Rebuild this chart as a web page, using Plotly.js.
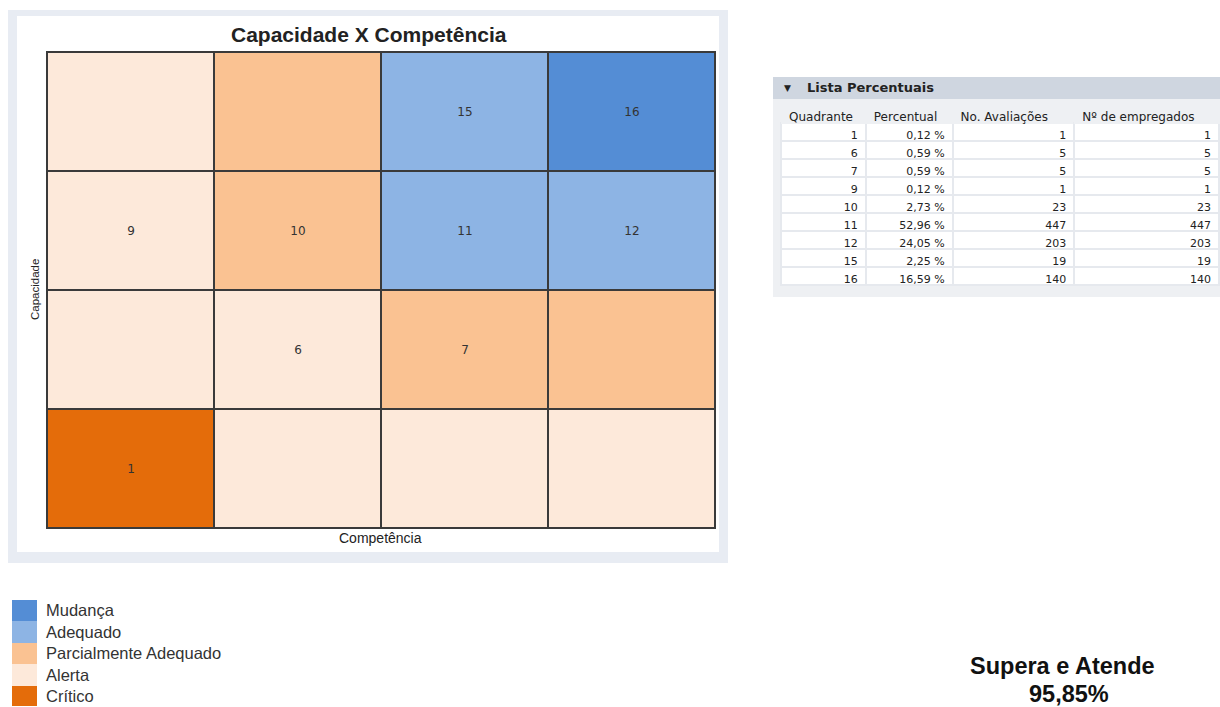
<!DOCTYPE html>
<html>
<head>
<meta charset="utf-8">
<script src="https://cdn.plot.ly/plotly-3.0.1.min.js"></script>
<style>html,body{margin:0;padding:0;background:#fff;}#chart{width:1220px;height:707px;}</style>
</head>
<body>
<div id="chart"></div>
<script>
// ---- data ----
const titulo = 'Capacidade X Competência';
const eixoX = 'Competência';
const eixoY = 'Capacidade';
const categorias = ['Crítico', 'Alerta', 'Parcialmente Adequado', 'Adequado', 'Mudança'];
const coresCategorias = ['#E46C0A', '#FDE9DA', '#FAC292', '#8DB4E4', '#548DD5'];
// grid class per quadrant, row 0 = bottom (quadrants 1-4), row 3 = top (13-16)
const gradeClasse = [
  [0, 1, 1, 1],
  [1, 1, 2, 2],
  [1, 2, 3, 3],
  [1, 2, 3, 4]
];
const colunasGrade = [0, 1, 2, 3];
const linhasGrade = [0, 1, 2, 3];
const quadrantes = [1, 6, 7, 9, 10, 11, 12, 15, 16];
const percentuais = ['0,12 %', '0,59 %', '0,59 %', '0,12 %', '2,73 %', '52,96 %', '24,05 %', '2,25 %', '16,59 %'];
const avaliacoes = [1, 5, 5, 1, 23, 447, 203, 19, 140];
const empregados = [1, 5, 5, 1, 23, 447, 203, 19, 140];
const cabecalhoTabela = ['Quadrante', 'Percentual', 'No. Avaliações', 'Nº de empregados'];
const tituloTabela = 'Lista Percentuais';
const resumoTexto = 'Supera e Atende';
const resumoValor = '95,85%';

// ---- derived ----
const textoGrade = linhasGrade.map(r => colunasGrade.map(c => {
  const q = r * 4 + c + 1;
  return quadrantes.includes(q) ? String(q) : '';
}));
const n = categorias.length;
const escala = [];
coresCategorias.forEach((cor, i) => {
  escala.push([i / n, cor]);
  escala.push([(i + 1) / n, cor]);
});

const W = 1220, H = 707;
const px = v => v / W;
const py = v => 1 - v / H;
const escuro = '#3A3A3A';

const grade = {
  type: 'heatmap',
  x: colunasGrade, y: linhasGrade, z: gradeClasse,
  text: textoGrade, texttemplate: '%{text}',
  textfont: {family: 'DejaVu Sans, sans-serif', size: 12, color: '#333'},
  colorscale: escala, zmin: -0.5, zmax: n - 0.5, showscale: false,
  xgap: 2, ygap: 2, hoverinfo: 'skip',
  xaxis: 'x', yaxis: 'y'
};

const legenda = {
  type: 'heatmap',
  x: [0], y: categorias, z: categorias.map((c, i) => [i]),
  colorscale: escala, zmin: -0.5, zmax: n - 0.5, showscale: false,
  hoverinfo: 'skip', xaxis: 'x2', yaxis: 'y2'
};

const tabela = {
  type: 'table',
  domain: {x: [px(781), px(1222)], y: [py(292), py(104)]},
  columnwidth: [85, 87, 122, 145],
  header: {
    values: cabecalhoTabela,
    align: 'left', height: 19,
    fill: {color: '#EEF0F3'}, line: {color: '#EEF0F3', width: 1},
    font: {family: 'DejaVu Sans, sans-serif', size: 12, color: '#222'}
  },
  cells: {
    values: [quadrantes, percentuais, avaliacoes, empregados],
    align: 'right', height: 18,
    fill: {color: '#FFFFFF'}, line: {color: '#E6E9EE', width: 2},
    font: {family: 'DejaVu Sans, sans-serif', size: 11, color: '#222'}
  }
};

const layout = {
  width: W, height: H,
  margin: {l: 0, r: 0, t: 0, b: 0},
  paper_bgcolor: '#FFFFFF', plot_bgcolor: escuro,
  showlegend: false,
  xaxis: {domain: [px(47), px(715)], range: [-0.5, 3.5], showticklabels: false, ticks: '',
          showgrid: false, zeroline: false, showline: true, mirror: true, linecolor: escuro, linewidth: 1, fixedrange: true},
  yaxis: {domain: [py(528), py(52)], range: [-0.5, 3.5], showticklabels: false, ticks: '',
          showgrid: false, zeroline: false, showline: true, mirror: true, linecolor: escuro, linewidth: 1, fixedrange: true},
  xaxis2: {domain: [px(12), px(37)], anchor: 'y2', showticklabels: false, ticks: '', showgrid: false, zeroline: false, fixedrange: true},
  yaxis2: {domain: [py(706), py(600)], anchor: 'x2', side: 'right', range: [-0.45, 4.5], ticks: '', showgrid: false, zeroline: false,
           ticklabelstandoff: 8, tickfont: {family: 'Liberation Sans, Arial, sans-serif', size: 16.5, color: '#333'}, fixedrange: true},
  shapes: [
    {type: 'rect', xref: 'paper', yref: 'paper', x0: px(8), x1: px(728), y0: py(563), y1: py(10), fillcolor: '#E8ECF3', line: {width: 0}, layer: 'below'},
    {type: 'rect', xref: 'paper', yref: 'paper', x0: px(17), x1: px(719), y0: py(552), y1: py(16), fillcolor: '#FFFFFF', line: {width: 0}, layer: 'below'},
    {type: 'rect', xref: 'x domain', yref: 'y domain', x0: 0, x1: 1, y0: 0, y1: 1, fillcolor: escuro, line: {width: 0}, layer: 'below'},
    {type: 'rect', xref: 'paper', yref: 'paper', x0: px(773), x1: px(1222), y0: py(297), y1: py(99), fillcolor: '#EEF0F3', line: {width: 0}, layer: 'below'},
    {type: 'rect', xref: 'paper', yref: 'paper', x0: px(773), x1: px(1222), y0: py(99), y1: py(77), fillcolor: '#CFD6E0', line: {width: 0}, layer: 'below'}
  ],
  annotations: [
    {text: '<b>' + titulo + '</b>', xref: 'paper', yref: 'paper', x: px(369), y: py(34), xanchor: 'center', yanchor: 'middle',
     showarrow: false, font: {family: 'Liberation Sans, Arial, sans-serif', size: 21, color: '#222'}},
    {text: eixoX, xref: 'paper', yref: 'paper', x: px(380), y: py(538), xanchor: 'center', yanchor: 'middle',
     showarrow: false, font: {family: 'Liberation Sans, Arial, sans-serif', size: 14, color: '#222'}},
    {text: eixoY, xref: 'paper', yref: 'paper', x: px(35), y: py(290), xanchor: 'center', yanchor: 'middle', textangle: -90,
     showarrow: false, font: {family: 'Liberation Sans, Arial, sans-serif', size: 11.5, color: '#222'}},
    {text: '▼', xref: 'paper', yref: 'paper', x: px(787), y: py(88), xanchor: 'center', yanchor: 'middle',
     showarrow: false, font: {family: 'DejaVu Sans, sans-serif', size: 9, color: '#222'}},
    {text: '<b>' + tituloTabela + '</b>', xref: 'paper', yref: 'paper', x: px(805), y: py(88), xanchor: 'left', yanchor: 'middle',
     showarrow: false, font: {family: 'DejaVu Sans, sans-serif', size: 13, color: '#222'}},
    {text: '<b>' + resumoTexto + '</b>', xref: 'paper', yref: 'paper', x: px(1062), y: py(666), xanchor: 'center', yanchor: 'middle',
     showarrow: false, font: {family: 'Liberation Sans, Arial, sans-serif', size: 23.5, color: '#111'}},
    {text: '<b>' + resumoValor + '</b>', xref: 'paper', yref: 'paper', x: px(1069), y: py(694), xanchor: 'center', yanchor: 'middle',
     showarrow: false, font: {family: 'Liberation Sans, Arial, sans-serif', size: 23.5, color: '#111'}}
  ]
};

Plotly.newPlot('chart', [grade, legenda, tabela], layout, {displayModeBar: false, staticPlot: true});
</script>
</body>
</html>
